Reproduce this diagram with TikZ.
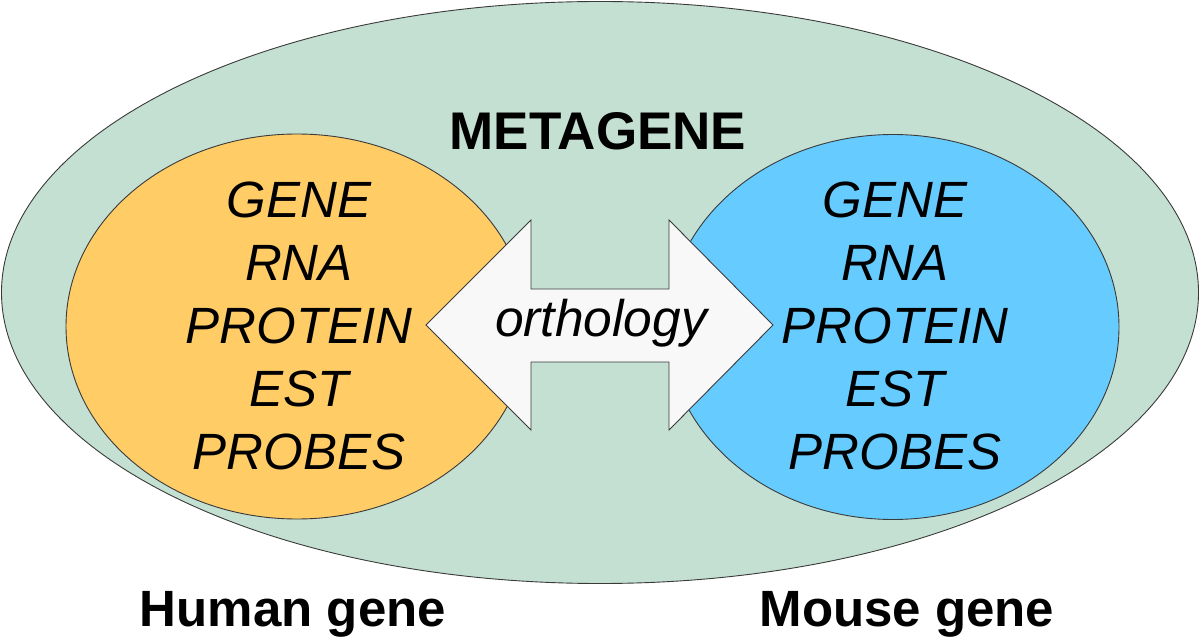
\documentclass[tikz,border=0pt]{standalone}
\usepackage{fontspec}
\setmainfont{Liberation Sans}
\usetikzlibrary{shapes.geometric}
\definecolor{metafill}{HTML}{C3E0D2}
\definecolor{humanfill}{HTML}{FFCC66}
\definecolor{mousefill}{HTML}{66CCFF}
\definecolor{arrowfill}{HTML}{F8F8F8}
\definecolor{edge}{HTML}{3A3A3A}
\tikzset{
  blob/.style={ellipse, draw=edge, line width=0.9pt, inner sep=0pt},
  genelist/.style={align=center, font=\fontsize{51}{63}\selectfont\itshape},
  boldlabel/.style={font=\fontsize{51}{60}\selectfont\bfseries, anchor=base},
}
\begin{document}
\begin{tikzpicture}[x=1pt,y=-1pt]
\useasboundingbox (0,0) rectangle (1200,644);
\node[blob, fill=metafill, minimum width=1197pt, minimum height=582pt] (meta) at (600,292.5) {};
\node[blob, fill=humanfill, minimum width=462pt, minimum height=385pt] (human) at (297,326.5) {};
\node[blob, fill=mousefill, minimum width=452pt, minimum height=385pt] (mouse) at (893,327) {};
\draw[draw=edge, line width=0.9pt, fill=arrowfill]
  (426,325) -- (531,220) -- (531,289) -- (669,289) -- (669,220) -- (773,325)
  -- (669,430) -- (669,362) -- (531,362) -- (531,430) -- cycle;
\node[font=\fontsize{51.5}{60}\selectfont\itshape, anchor=base] (orth) at (601,337) {orthology};
\node[boldlabel, font=\fontsize{53}{60}\selectfont\bfseries] (metalabel) at (598,150) {METAGENE};
\node[genelist] (htext) at (299,326) {GENE\\RNA\\PROTEIN\\EST\\PROBES};
\node[genelist] (mtext) at (895,326) {GENE\\RNA\\PROTEIN\\EST\\PROBES};
\node[boldlabel] (hlabel) at (293,626) {Human gene};
\node[boldlabel] (mlabel) at (907,626) {Mouse gene};
\end{tikzpicture}
\end{document}
